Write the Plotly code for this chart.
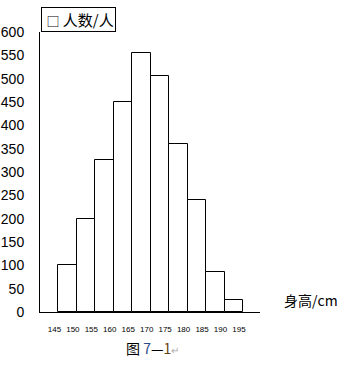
import plotly.graph_objects as go

bin_starts = [145, 150, 155, 160, 165, 170, 175, 180, 185, 190]
counts = [100, 200, 325, 450, 555, 505, 360, 240, 85, 25]
bin_width = 5
tick_values = [145, 150, 155, 160, 165, 170, 175, 180, 185, 190, 195]
tick_labels = [str(v) for v in tick_values]
y_ticks = [0, 50, 100, 150, 200, 250, 300, 350, 400, 450, 500, 550, 600]

centers = [s + bin_width / 2 for s in bin_starts]

fig = go.Figure()
fig.add_trace(go.Bar(
    x=centers, y=counts, width=bin_width,
    marker=dict(color="white", line=dict(color="black", width=1)),
    name="人数/人", showlegend=False,
))

cjk = "Noto Sans CJK SC"
fig.update_layout(
    width=356, height=365,
    margin=dict(l=40, r=96, t=32, b=53),
    paper_bgcolor="white", plot_bgcolor="white",
    bargap=0,
    xaxis=dict(
        range=[140, 199.6], showgrid=False, zeroline=False, automargin=False,
        showline=True, linecolor="black", linewidth=1,
        tickmode="array", tickvals=[v - 1.1 for v in tick_values], ticktext=tick_labels,
        ticks="", ticklabelstandoff=9,
        tickfont=dict(family="Liberation Sans", size=8, color="black"),
    ),
    yaxis=dict(
        range=[0, 600], showgrid=False, zeroline=False, automargin=False,
        showline=True, linecolor="black", linewidth=1,
        tickmode="array", tickvals=y_ticks,
        ticks="", ticklabelstandoff=12,
        tickfont=dict(family="Liberation Sans", size=14, color="black"),
    ),
    font=dict(family=cjk, color="black"),
    annotations=[
        dict(text="\u00a0<span style='font-size:13px'>□</span>\u00a0人数/人", xref="paper", yref="paper", x=0.005, y=1.0,
             xanchor="left", yanchor="bottom", showarrow=False,
             bordercolor="black", borderwidth=1, borderpad=1,
             font=dict(family=cjk, size=15, color="black")),
        dict(text="身高/cm", xref="paper", yref="paper", x=1.1, y=0.043,
             xanchor="left", yanchor="middle", showarrow=False,
             font=dict(family=cjk, size=14, color="black")),
        dict(text="图 <span style='color:#2b4a8a'>7</span>—<span style='color:#6a4210'>1</span><span style='color:#aaaaaa;font-size:10px'>↵</span>",
             xref="paper", yref="paper", x=0.51, y=-0.128,
             xanchor="center", yanchor="middle", showarrow=False,
             font=dict(family=cjk, size=14, color="black")),
    ],
)

fig.write_html("out.html")
